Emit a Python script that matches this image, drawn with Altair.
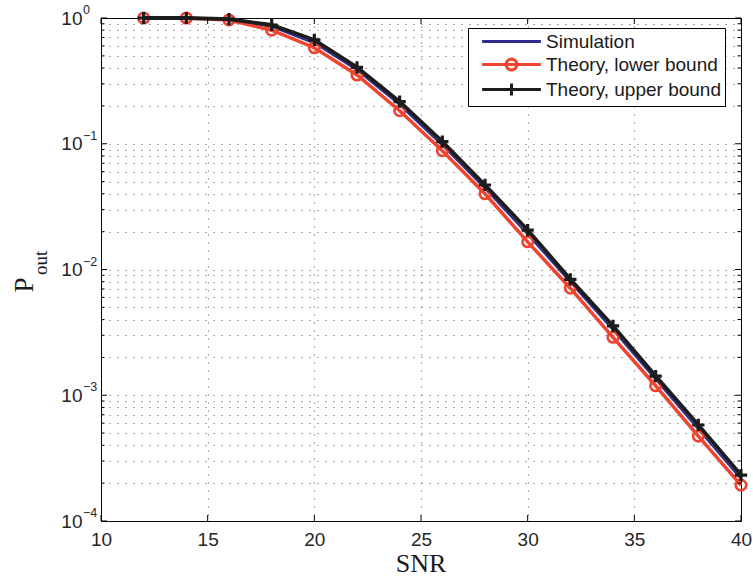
import math
import altair as alt
import pandas as pd

# ---------------- data ----------------
snr = [12, 14, 16, 18, 20, 22, 24, 26, 28, 30, 32, 34, 36, 38, 40]
sim = [1.0, 1.0, 0.975, 0.85, 0.63, 0.385, 0.203, 0.097, 0.0441, 0.0190,
       0.0079, 0.00330, 0.00133, 0.000535, 0.000215]
lower = [1.0, 1.0, 0.965, 0.80, 0.58, 0.352, 0.183, 0.088, 0.040, 0.0166,
         0.0071, 0.00289, 0.00119, 0.000473, 0.000193]
upper = [1.0, 1.0, 0.98, 0.88, 0.67, 0.405, 0.216, 0.104, 0.047, 0.0206,
         0.00836, 0.00356, 0.00142, 0.00058, 0.000232]
series_names = ["Simulation", "Theory, lower bound", "Theory, upper bound"]
series_colors = ["#2e2d8f", "#ef4430", "#1c1c1c"]
x_ticks = [10, 15, 20, 25, 30, 35, 40]
y_decades = [1e-4, 1e-3, 1e-2, 1e-1, 1.0]
y_exponents = ["\u22124", "\u22123", "\u22122", "\u22121", "0"]

# ---------------- helpers ----------------
y_minors = [m * 10.0 ** k for k in range(-4, 0) for m in range(2, 10)]
y_grid = sorted(y_decades + y_minors)

rows = []
for name, vals in zip(series_names, [sim, lower, upper]):
    for s, v in zip(snr, vals):
        rows.append({"snr": s, "p": v, "series": name})
df = pd.DataFrame(rows)

W, H = 640, 503
FONT = "Liberation Sans"
SERIF = "Liberation Serif"
TXT = "#262626"

xs = alt.Scale(domain=[10, 40], nice=False, zero=False)
ys = alt.Scale(type="log", domain=[1e-4, 1], nice=False)

x_axis = alt.Axis(values=x_ticks, title=None, grid=True, gridDash=[1, 7],
                  gridColor="#333333", gridOpacity=0.8, ticks=False, domain=False,
                  labelFont=FONT, labelFontSize=19, labelColor=TXT,
                  labelPadding=9, labelFlush=False, labelOverlap=False)
y_axis = alt.Axis(values=y_grid, title=None, grid=True, gridDash=[1, 7],
                  gridColor="#333333", gridOpacity=0.8, ticks=False, domain=False,
                  labelFont=FONT, labelFontSize=19, labelColor=TXT,
                  labelPadding=19, labelOverlap=False, labelBaseline="middle",
                  labelExpr="abs(log(datum.value)/LN10 - round(log(datum.value)/LN10)) < 0.001 ? '10' : ''")


def X(field):
    return alt.X(field, scale=xs, axis=x_axis)


def Y(field):
    return alt.Y(field, scale=ys, axis=y_axis)


base = alt.Chart(df)


def sel(i):
    return base.transform_filter(alt.datum.series == series_names[i])


xy = dict(x=X("snr:Q"), y=Y("p:Q"))

blue_line = sel(0).mark_line(color=series_colors[0], strokeWidth=2).encode(**xy)
red_line = sel(1).mark_line(color=series_colors[1], strokeWidth=3.5).encode(**xy)
red_pts = sel(1).mark_point(shape="circle", filled=False, size=110, strokeWidth=2.6,
                            color=series_colors[1], opacity=1).encode(**xy)
black_line = sel(2).mark_line(color=series_colors[2], strokeWidth=3.8).encode(**xy)
black_pts = sel(2).mark_point(shape="M-1,0L1,0M0,-1L0,1", filled=False, size=150,
                              strokeWidth=3.2, color=series_colors[2],
                              opacity=1).encode(**xy)

# legend symbols: line + marker drawn as custom paths
circ = "M0.9,0" + "".join(
    "L%.3f,%.3f" % (0.9 * math.cos(2 * math.pi * k / 24), 0.9 * math.sin(2 * math.pi * k / 24))
    for k in range(1, 25)) + "Z"
legend_paths = ["M-4.9,0L4.9,0",
                "M-4.9,0L4.9,0" + circ,
                "M-4.9,0L4.9,0M0,-1L0,1"]
leg_kw = dict(title=None, orient="none", legendX=367, legendY=10, padding=4,
              strokeColor="#000000", fillColor="#ffffff", labelFont=FONT,
              labelFontSize=19, labelColor="#1a1a1a", symbolSize=144,
              symbolStrokeWidth=3, symbolOffset=30, labelOffset=25, rowPadding=1,
              symbolOpacity=1, cornerRadius=0, labelLimit=400)
legend_layer = base.mark_point(opacity=0, filled=False).encode(
    **xy,
    color=alt.Color("series:N", scale=alt.Scale(domain=series_names, range=series_colors),
                    legend=alt.Legend(**leg_kw)),
    shape=alt.Shape("series:N", scale=alt.Scale(domain=series_names, range=legend_paths),
                    legend=alt.Legend(**leg_kw)),
)

# inward ticks
dec_df = pd.DataFrame({"v": y_decades})
min_df = pd.DataFrame({"v": y_minors})
xt_df = pd.DataFrame({"v": x_ticks})


def yrule(d, x1, x2):
    return alt.Chart(d).mark_rule(color="#000000", strokeWidth=1).encode(
        y=Y("v:Q"), x=alt.value(x1), x2=alt.value(x2))


def xrule(y1, y2):
    return alt.Chart(xt_df).mark_rule(color="#000000", strokeWidth=1).encode(
        x=X("v:Q"), y=alt.value(y1), y2=alt.value(y2))


ticks = [yrule(dec_df, 0, 6), yrule(min_df, 0, 3.5),
         yrule(dec_df, W, W - 6), yrule(min_df, W, W - 3.5),
         xrule(H, H - 6), xrule(0, 6)]

# exponent labels for y ticks
exp_df = pd.DataFrame({"v": y_decades, "e": y_exponents})
exps = alt.Chart(exp_df).mark_text(align="left", baseline="middle", font=FONT,
                                   fontSize=12.5, color=TXT, dy=-8).encode(
    x=alt.value(-18), y=Y("v:Q"), text="e:N")

# axis titles
snr_title = alt.Chart(pd.DataFrame({"t": ["SNR"]})).mark_text(
    font=SERIF, fontSize=26, baseline="alphabetic", align="center", color="#1a1a1a"
).encode(text="t:N", x=alt.value(W / 2), y=alt.value(554))
p_title = alt.Chart(pd.DataFrame({"t": ["P"]})).mark_text(
    font=SERIF, fontSize=27, baseline="alphabetic", align="center", angle=270,
    color="#1a1a1a").encode(text="t:N", x=alt.value(-68), y=alt.value(267))
out_title = alt.Chart(pd.DataFrame({"t": ["out"]})).mark_text(
    font=SERIF, fontSize=19, baseline="alphabetic", align="left", angle=270,
    color="#1a1a1a").encode(text="t:N", x=alt.value(-54), y=alt.value(257))

chart = alt.layer(
    blue_line, red_line, red_pts, black_line, black_pts, legend_layer,
    *ticks, exps, snr_title, p_title, out_title
).properties(
    width=W, height=H,
    padding={"left": 101, "top": 18, "right": 12, "bottom": 59},
    autosize=alt.AutoSizeParams(type="none"),
    background="#ffffff",
).configure_view(stroke="#000000", strokeWidth=1)

chart.save("out.html", embed_options={"renderer": "svg", "actions": False})
